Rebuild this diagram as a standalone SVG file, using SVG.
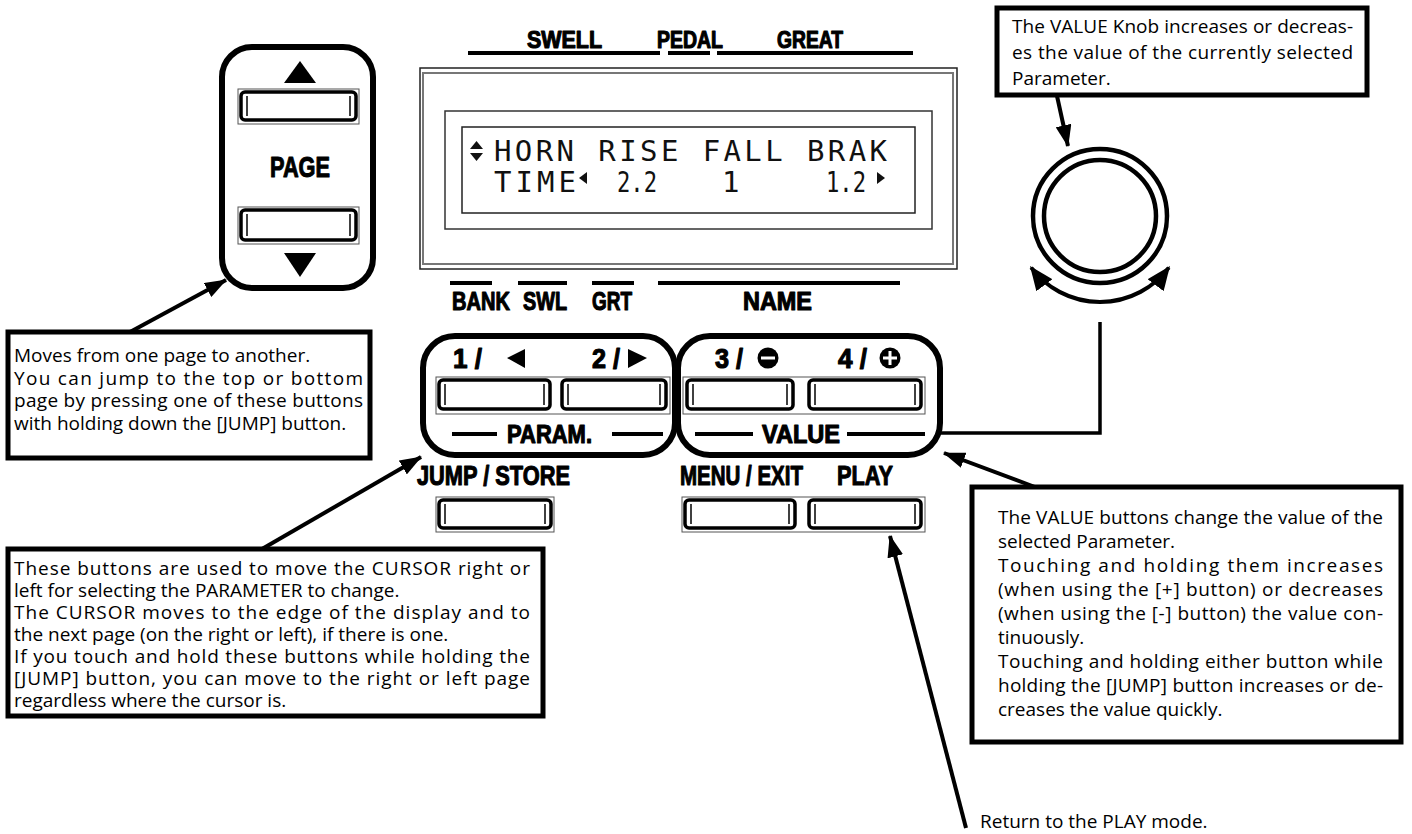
<svg xmlns="http://www.w3.org/2000/svg" width="1412" height="834" viewBox="0 0 1412 834">
<defs>
<style>
.lbl{font-family:"Liberation Sans",Arial,sans-serif;font-weight:bold;fill:#000;stroke:#000;stroke-width:1.1;stroke-linejoin:round}
.desc{font-family:"Open Sans","Liberation Sans",sans-serif;font-size:19px;fill:#000}
.lcd{font-family:"DejaVu Sans Mono",monospace;font-size:29px;fill:#111}
.box{fill:#fff;stroke:#000;stroke-width:5}
.grp{fill:none;stroke:#000;stroke-width:6}
.bo{fill:none;stroke:#555;stroke-width:1}
.btn{fill:#fff;stroke:#000;stroke-width:3.5}
.cap{stroke:#000;stroke-width:1.5;fill:none}
.bar{stroke:#000;stroke-width:4;fill:none}
.conn{stroke:#000;stroke-width:4;fill:none}
</style>
<marker id="arr" viewBox="0 0 22 16" refX="21" refY="8" markerWidth="22" markerHeight="16" markerUnits="userSpaceOnUse" orient="auto"><path d="M0,0 L22,8 L0,16 z" fill="#000"/></marker>
<marker id="arrk" viewBox="0 0 24 20" refX="22" refY="10" markerWidth="24" markerHeight="20" markerUnits="userSpaceOnUse" orient="auto-start-reverse"><path d="M0,0 L24,10 L0,20 z" fill="#000"/></marker>
</defs>
<rect width="1412" height="834" fill="#fff"/>

<!-- PAGE buttons -->
<g id="page">
<rect class="grp" x="222" y="47" width="151" height="241" rx="30"/>
<polygon points="300,61 284,83 316,83" fill="#000"/>
<rect class="bo" x="238" y="89" width="121" height="35"/>
<g transform="translate(239,90)"><rect class="btn" x="2" y="2" width="115" height="28" rx="4"/><line class="cap" x1="8" y1="6" x2="8" y2="26"/><line class="cap" x1="111" y1="6" x2="111" y2="26"/></g>
<text class="lbl" x="270" y="177" font-size="30" textLength="60" lengthAdjust="spacingAndGlyphs">PAGE</text>
<rect class="bo" x="238" y="207" width="121" height="37"/>
<g transform="translate(239,208)"><rect class="btn" x="2" y="2" width="115" height="30" rx="4"/><line class="cap" x1="8" y1="6" x2="8" y2="28"/><line class="cap" x1="111" y1="6" x2="111" y2="28"/></g>
<polygon points="284,253 316,253 300,277" fill="#000"/>
</g>

<!-- Display -->
<g id="display">
<text class="lbl" x="527" y="48" font-size="23" textLength="75" lengthAdjust="spacingAndGlyphs">SWELL</text>
<text class="lbl" x="657" y="48" font-size="23" textLength="66" lengthAdjust="spacingAndGlyphs">PEDAL</text>
<text class="lbl" x="777" y="48" font-size="23" textLength="66" lengthAdjust="spacingAndGlyphs">GREAT</text>
<line class="bar" x1="468" y1="53" x2="660" y2="53"/>
<line class="bar" x1="668" y1="53" x2="710" y2="53"/>
<line class="bar" x1="717" y1="53" x2="913" y2="53"/>
<rect x="420" y="68" width="537" height="201" fill="none" stroke="#222" stroke-width="1.5"/>
<rect x="423" y="73" width="530" height="191" fill="none" stroke="#777" stroke-width="2"/>
<rect x="445" y="111" width="487" height="118" fill="none" stroke="#333" stroke-width="1.5"/>
<rect x="462" y="127" width="453" height="86" fill="none" stroke="#222" stroke-width="1.5"/>
<polygon points="476.5,141 470,149 483,149" fill="#111"/>
<polygon points="470,153 483,153 476.5,161" fill="#111"/>
<text class="lcd" x="494" y="161" textLength="393" lengthAdjust="spacing">HORN RISE FALL BRAK</text>
<text class="lcd" x="494" y="192" textLength="82" lengthAdjust="spacing">TIME</text>
<polygon points="579,178 587,172 587,184" fill="#111"/>
<text class="lcd" x="617" y="192" textLength="40" lengthAdjust="spacingAndGlyphs">2.2</text>
<text class="lcd" x="722" y="192">1</text>
<text class="lcd" x="826" y="192" textLength="40" lengthAdjust="spacingAndGlyphs">1.2</text>
<polygon points="877,172 885,178 877,184" fill="#111"/>
<text class="lbl" x="452" y="310" font-size="25" textLength="58" lengthAdjust="spacingAndGlyphs">BANK</text>
<text class="lbl" x="523" y="310" font-size="25" textLength="44" lengthAdjust="spacingAndGlyphs">SWL</text>
<text class="lbl" x="592" y="310" font-size="25" textLength="40" lengthAdjust="spacingAndGlyphs">GRT</text>
<text class="lbl" x="743" y="310" font-size="25" textLength="69" lengthAdjust="spacingAndGlyphs">NAME</text>
<line class="bar" x1="450" y1="283" x2="492" y2="283"/>
<line class="bar" x1="518" y1="283" x2="567" y2="283"/>
<line class="bar" x1="592" y1="283" x2="634" y2="283"/>
<line class="bar" x1="658" y1="283" x2="900" y2="283"/>
</g>

<!-- PARAM group -->
<g id="param">
<rect class="grp" x="423" y="336" width="252" height="119" rx="32"/>
<text class="lbl" x="453" y="368" font-size="27" textLength="29" lengthAdjust="spacingAndGlyphs">1 /</text>
<polygon points="507,358 525,349 525,368" fill="#000"/>
<text class="lbl" x="592" y="368" font-size="27" textLength="28" lengthAdjust="spacingAndGlyphs">2 /</text>
<polygon points="628,349 647,358 628,368" fill="#000"/>
<rect class="bo" x="436" y="377" width="234" height="37"/>
<g transform="translate(437,378)"><rect class="btn" x="2" y="2" width="111" height="29" rx="4"/><line class="cap" x1="8" y1="6" x2="8" y2="27"/><line class="cap" x1="107" y1="6" x2="107" y2="27"/></g>
<g transform="translate(560,378)"><rect class="btn" x="2" y="2" width="104" height="29" rx="4"/><line class="cap" x1="8" y1="6" x2="8" y2="27"/><line class="cap" x1="100" y1="6" x2="100" y2="27"/></g>
<line class="bar" x1="452" y1="434" x2="497" y2="434" stroke-width="3.5"/>
<text class="lbl" x="507" y="443" font-size="25" textLength="85" lengthAdjust="spacingAndGlyphs">PARAM.</text>
<line class="bar" x1="612" y1="434" x2="663" y2="434" stroke-width="3.5"/>
</g>

<!-- VALUE group -->
<g id="value">
<rect class="grp" x="678" y="336" width="262" height="119" rx="32"/>
<text class="lbl" x="715" y="368" font-size="27" textLength="28" lengthAdjust="spacingAndGlyphs">3 /</text>
<circle cx="768" cy="358" r="10.5" fill="#000"/>
<rect x="761" y="356.5" width="14" height="3" fill="#fff"/>
<text class="lbl" x="838" y="368" font-size="27" textLength="29" lengthAdjust="spacingAndGlyphs">4 /</text>
<circle cx="890" cy="358" r="10.5" fill="#000"/>
<rect x="883" y="356.5" width="14" height="3" fill="#fff"/>
<rect x="888.5" y="351" width="3" height="14" fill="#fff"/>
<rect class="bo" x="683" y="377" width="242" height="37"/>
<g transform="translate(685,378)"><rect class="btn" x="2" y="2" width="106" height="29" rx="4"/><line class="cap" x1="8" y1="6" x2="8" y2="27"/><line class="cap" x1="102" y1="6" x2="102" y2="27"/></g>
<g transform="translate(807,378)"><rect class="btn" x="2" y="2" width="112" height="29" rx="4"/><line class="cap" x1="8" y1="6" x2="8" y2="27"/><line class="cap" x1="108" y1="6" x2="108" y2="27"/></g>
<line class="bar" x1="695" y1="434" x2="753" y2="434" stroke-width="3.5"/>
<text class="lbl" x="762" y="443" font-size="25" textLength="78" lengthAdjust="spacingAndGlyphs">VALUE</text>
<line class="bar" x1="847" y1="434" x2="925" y2="434" stroke-width="3.5"/>
</g>

<!-- Bottom buttons -->
<g id="jump">
<text class="lbl" x="417" y="485" font-size="28" textLength="153" lengthAdjust="spacingAndGlyphs">JUMP / STORE</text>
<rect class="bo" x="436" y="497" width="118" height="35"/>
<g transform="translate(437,498)"><rect class="btn" x="2" y="2" width="112" height="28" rx="4"/><line class="cap" x1="8" y1="6" x2="8" y2="26"/><line class="cap" x1="108" y1="6" x2="108" y2="26"/></g>
</g>
<g id="menu">
<text class="lbl" x="680" y="485" font-size="28" textLength="123" lengthAdjust="spacingAndGlyphs">MENU / EXIT</text>
<rect class="bo" x="682" y="497" width="243" height="35"/>
<g transform="translate(683,498)"><rect class="btn" x="2" y="2" width="110" height="28" rx="4"/><line class="cap" x1="8" y1="6" x2="8" y2="26"/><line class="cap" x1="106" y1="6" x2="106" y2="26"/></g>
</g>
<g id="play">
<text class="lbl" x="837" y="485" font-size="28" textLength="56" lengthAdjust="spacingAndGlyphs">PLAY</text>
<g transform="translate(807,498)"><rect class="btn" x="2" y="2" width="112" height="28" rx="4"/><line class="cap" x1="8" y1="6" x2="8" y2="26"/><line class="cap" x1="108" y1="6" x2="108" y2="26"/></g>
</g>

<!-- Knob -->
<g id="knob">
<circle cx="1100" cy="216" r="67" fill="none" stroke="#000" stroke-width="4.5"/>
<circle cx="1100" cy="216" r="56" fill="none" stroke="#000" stroke-width="4.5"/>
<path d="M1031.2,267.6 A86,86 0 0 0 1168.8,267.6" fill="none" stroke="#000" stroke-width="4" marker-start="url(#arrk)" marker-end="url(#arrk)"/>
</g>

<!-- Description boxes -->
<g id="note-page">
<rect class="box" x="8" y="332" width="362" height="126"/>
<text class="desc" x="14" y="362">Moves from one page to another.</text>
<text class="desc" x="14" y="385" textLength="349" lengthAdjust="spacing">You can jump to the top or bottom</text>
<text class="desc" x="14" y="407" textLength="349" lengthAdjust="spacing">page by pressing one of these buttons</text>
<text class="desc" x="14" y="430">with holding down the [JUMP] button.</text>
</g>
<g id="note-param">
<rect class="box" x="8" y="549" width="535" height="167"/>
<text class="desc" x="14" y="575" textLength="516" lengthAdjust="spacing">These buttons are used to move the CURSOR right or</text>
<text class="desc" x="14" y="597">left for selecting the PARAMETER to change.</text>
<text class="desc" x="14" y="619" textLength="516" lengthAdjust="spacing">The CURSOR moves to the edge of the display and to</text>
<text class="desc" x="14" y="641">the next page (on the right or left), if there is one.</text>
<text class="desc" x="14" y="663" textLength="516" lengthAdjust="spacing">If you touch and hold these buttons while holding the</text>
<text class="desc" x="14" y="685" textLength="516" lengthAdjust="spacing">[JUMP] button, you can move to the right or left page</text>
<text class="desc" x="14" y="707">regardless where the cursor is.</text>
</g>
<g id="note-knob">
<rect class="box" x="997" y="8" width="370" height="87"/>
<text class="desc" x="1012" y="33" textLength="341" lengthAdjust="spacing">The VALUE Knob increases or decreas-</text>
<text class="desc" x="1012" y="59" textLength="341" lengthAdjust="spacing">es the value of the currently selected</text>
<text class="desc" x="1012" y="85">Parameter.</text>
</g>
<g id="note-value">
<rect class="box" x="972" y="487" width="429" height="255"/>
<text class="desc" x="998" y="524" textLength="385" lengthAdjust="spacing">The VALUE buttons change the value of the</text>
<text class="desc" x="998" y="548">selected Parameter.</text>
<text class="desc" x="998" y="572" textLength="385" lengthAdjust="spacing">Touching and holding them increases</text>
<text class="desc" x="998" y="596" textLength="385" lengthAdjust="spacing">(when using the [+] button) or decreases</text>
<text class="desc" x="998" y="620" textLength="385" lengthAdjust="spacing">(when using the [-] button) the value con-</text>
<text class="desc" x="998" y="644">tinuously.</text>
<text class="desc" x="998" y="668" textLength="385" lengthAdjust="spacing">Touching and holding either button while</text>
<text class="desc" x="998" y="692" textLength="385" lengthAdjust="spacing">holding the [JUMP] button increases or de-</text>
<text class="desc" x="998" y="716">creases the value quickly.</text>
</g>
<g id="note-play">
<text class="desc" x="980" y="828">Return to the PLAY mode.</text>
</g>

<!-- Connectors -->
<g id="connectors">
<line class="conn" x1="130" y1="332" x2="226" y2="280" marker-end="url(#arr)"/>
<line class="conn" x1="262" y1="549" x2="421" y2="457" marker-end="url(#arr)"/>
<line class="conn" x1="1057" y1="96" x2="1068" y2="146" marker-end="url(#arr)"/>
<line class="conn" x1="1035" y1="487" x2="944" y2="453" marker-end="url(#arr)"/>
<line class="conn" x1="966" y1="828" x2="890" y2="536" marker-end="url(#arr)"/>
<polyline points="940,433 1100,433 1100,322" fill="none" stroke="#000" stroke-width="3.5"/>
</g>
</svg>
